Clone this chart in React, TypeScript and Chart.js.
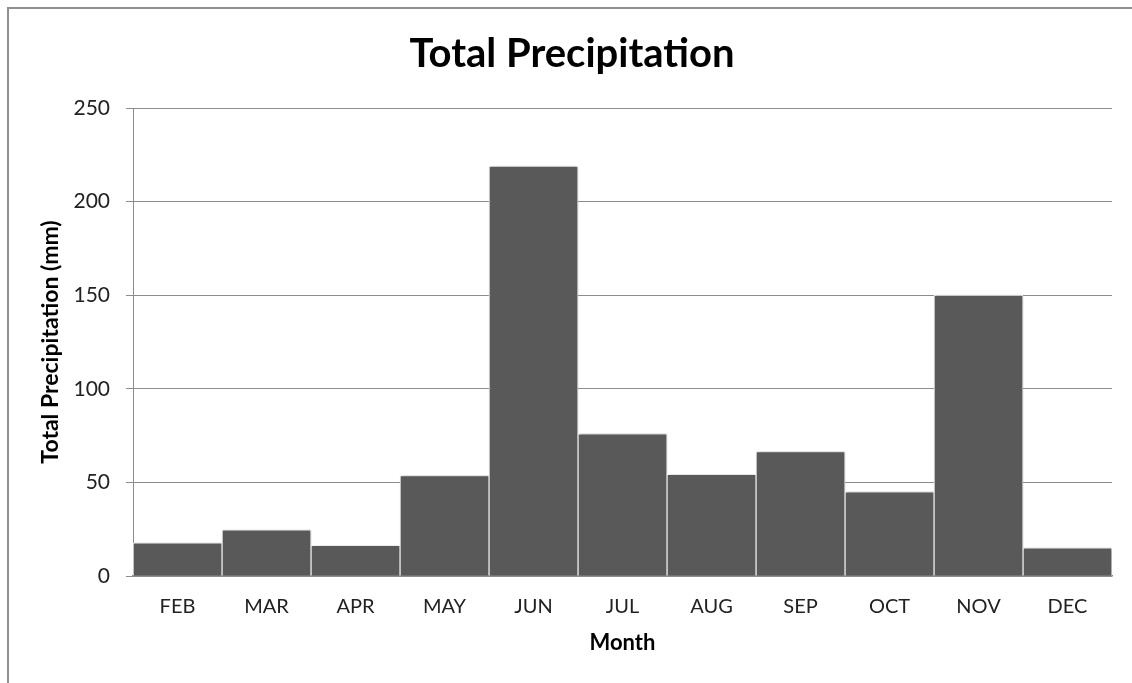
import React, { useEffect, useRef } from "react";
import { Chart, registerables } from "chart.js";

Chart.register(...registerables);

// Monthly precipitation totals (mm)
const months = ["FEB", "MAR", "APR", "MAY", "JUN", "JUL", "AUG", "SEP", "OCT", "NOV", "DEC"];
const precipitation = [17.7, 24.6, 16.4, 53.6, 219, 76, 54.3, 66.4, 45, 150, 15];
const yTicks = [0, 50, 100, 150, 200, 250];

const FONT = "Lato, 'Open Sans', sans-serif";

// Soft drop shadow behind the bars
const barShadow = {
  id: "barShadow",
  beforeDatasetsDraw(chart: any) {
    const ctx = chart.ctx;
    ctx.save();
    ctx.shadowColor = "rgba(0,0,0,0.3)";
    ctx.shadowBlur = 3;
    ctx.shadowOffsetX = 1;
    ctx.shadowOffsetY = 0;
  },
  afterDatasetsDraw(chart: any) {
    chart.ctx.restore();
  },
};

export default function App() {
  const canvasRef = useRef<HTMLCanvasElement | null>(null);

  useEffect(() => {
    const canvas = canvasRef.current;
    if (!canvas) return;
    const chart = new Chart(canvas, {
      type: "bar",
      data: {
        labels: months,
        datasets: [
          {
            data: precipitation,
            backgroundColor: "#595959",
            borderColor: "#ffffff",
            borderWidth: 1,
            barPercentage: 1,
            categoryPercentage: 1,
          },
        ],
      },
      plugins: [barShadow],
      options: {
        animation: false,
        responsive: false,
        devicePixelRatio: 1,
        layout: { padding: { left: 32, right: 20, top: 0, bottom: 0 } },
        plugins: {
          legend: { display: false },
          tooltip: { enabled: false },
          title: {
            display: true,
            text: "Total Precipitation",
            color: "#000",
            font: { family: FONT, size: 40, weight: "bold", lineHeight: 1.2 },
            padding: { top: 30.5, bottom: 29.5 },
          },
        },
        scales: {
          x: {
            grid: { display: false, drawTicks: false },
            border: { display: true, color: "#8c8c8c", width: 1.5 },
            ticks: {
              color: "#222",
              padding: 19,
              font: { family: FONT, size: 20 },
            },
            title: {
              display: true,
              text: "Month",
              color: "#000",
              font: { family: FONT, size: 22, weight: "bold", lineHeight: 1.2 },
              padding: { top: 0, bottom: 27 },
            },
            afterFit(scale: any) {
              scale.height = 107;
            },
          },
          y: {
            min: 0,
            max: 250,
            afterBuildTicks(scale: any) {
              scale.ticks = yTicks.map((v) => ({ value: v }));
            },
            grid: {
              color: "#8c8c8c",
              lineWidth: 1,
              tickLength: 7,
              drawTicks: true,
            },
            border: { display: true, color: "#8c8c8c", width: 1 },
            ticks: {
              color: "#222",
              padding: 16,
              font: { family: FONT, size: 21 },
            },
            title: {
              display: true,
              text: "Total Precipitation (mm)",
              color: "#000",
              font: { family: FONT, size: 23, weight: "bold", lineHeight: 1.2 },
              padding: { top: 5, bottom: 0 },
            },
            afterFit(scale: any) {
              scale.width = 101;
            },
          },
        },
      } as any,
    });
    return () => chart.destroy();
  }, []);

  return (
    <div
      style={{
        position: "fixed",
        left: 0,
        top: 0,
        width: 1132,
        height: 683,
        background: "#fff",
        overflow: "hidden",
      }}
    >
      <div
        style={{
          position: "absolute",
          left: 7,
          top: 7,
          width: 1200,
          height: 800,
          borderLeft: "2px solid #8f8f8f",
          borderTop: "2px solid #8f8f8f",
        }}
      />
      <canvas
        ref={canvasRef}
        width={1132}
        height={683}
        style={{ position: "absolute", left: 0, top: 0, width: 1132, height: 683 }}
      />
    </div>
  );
}
